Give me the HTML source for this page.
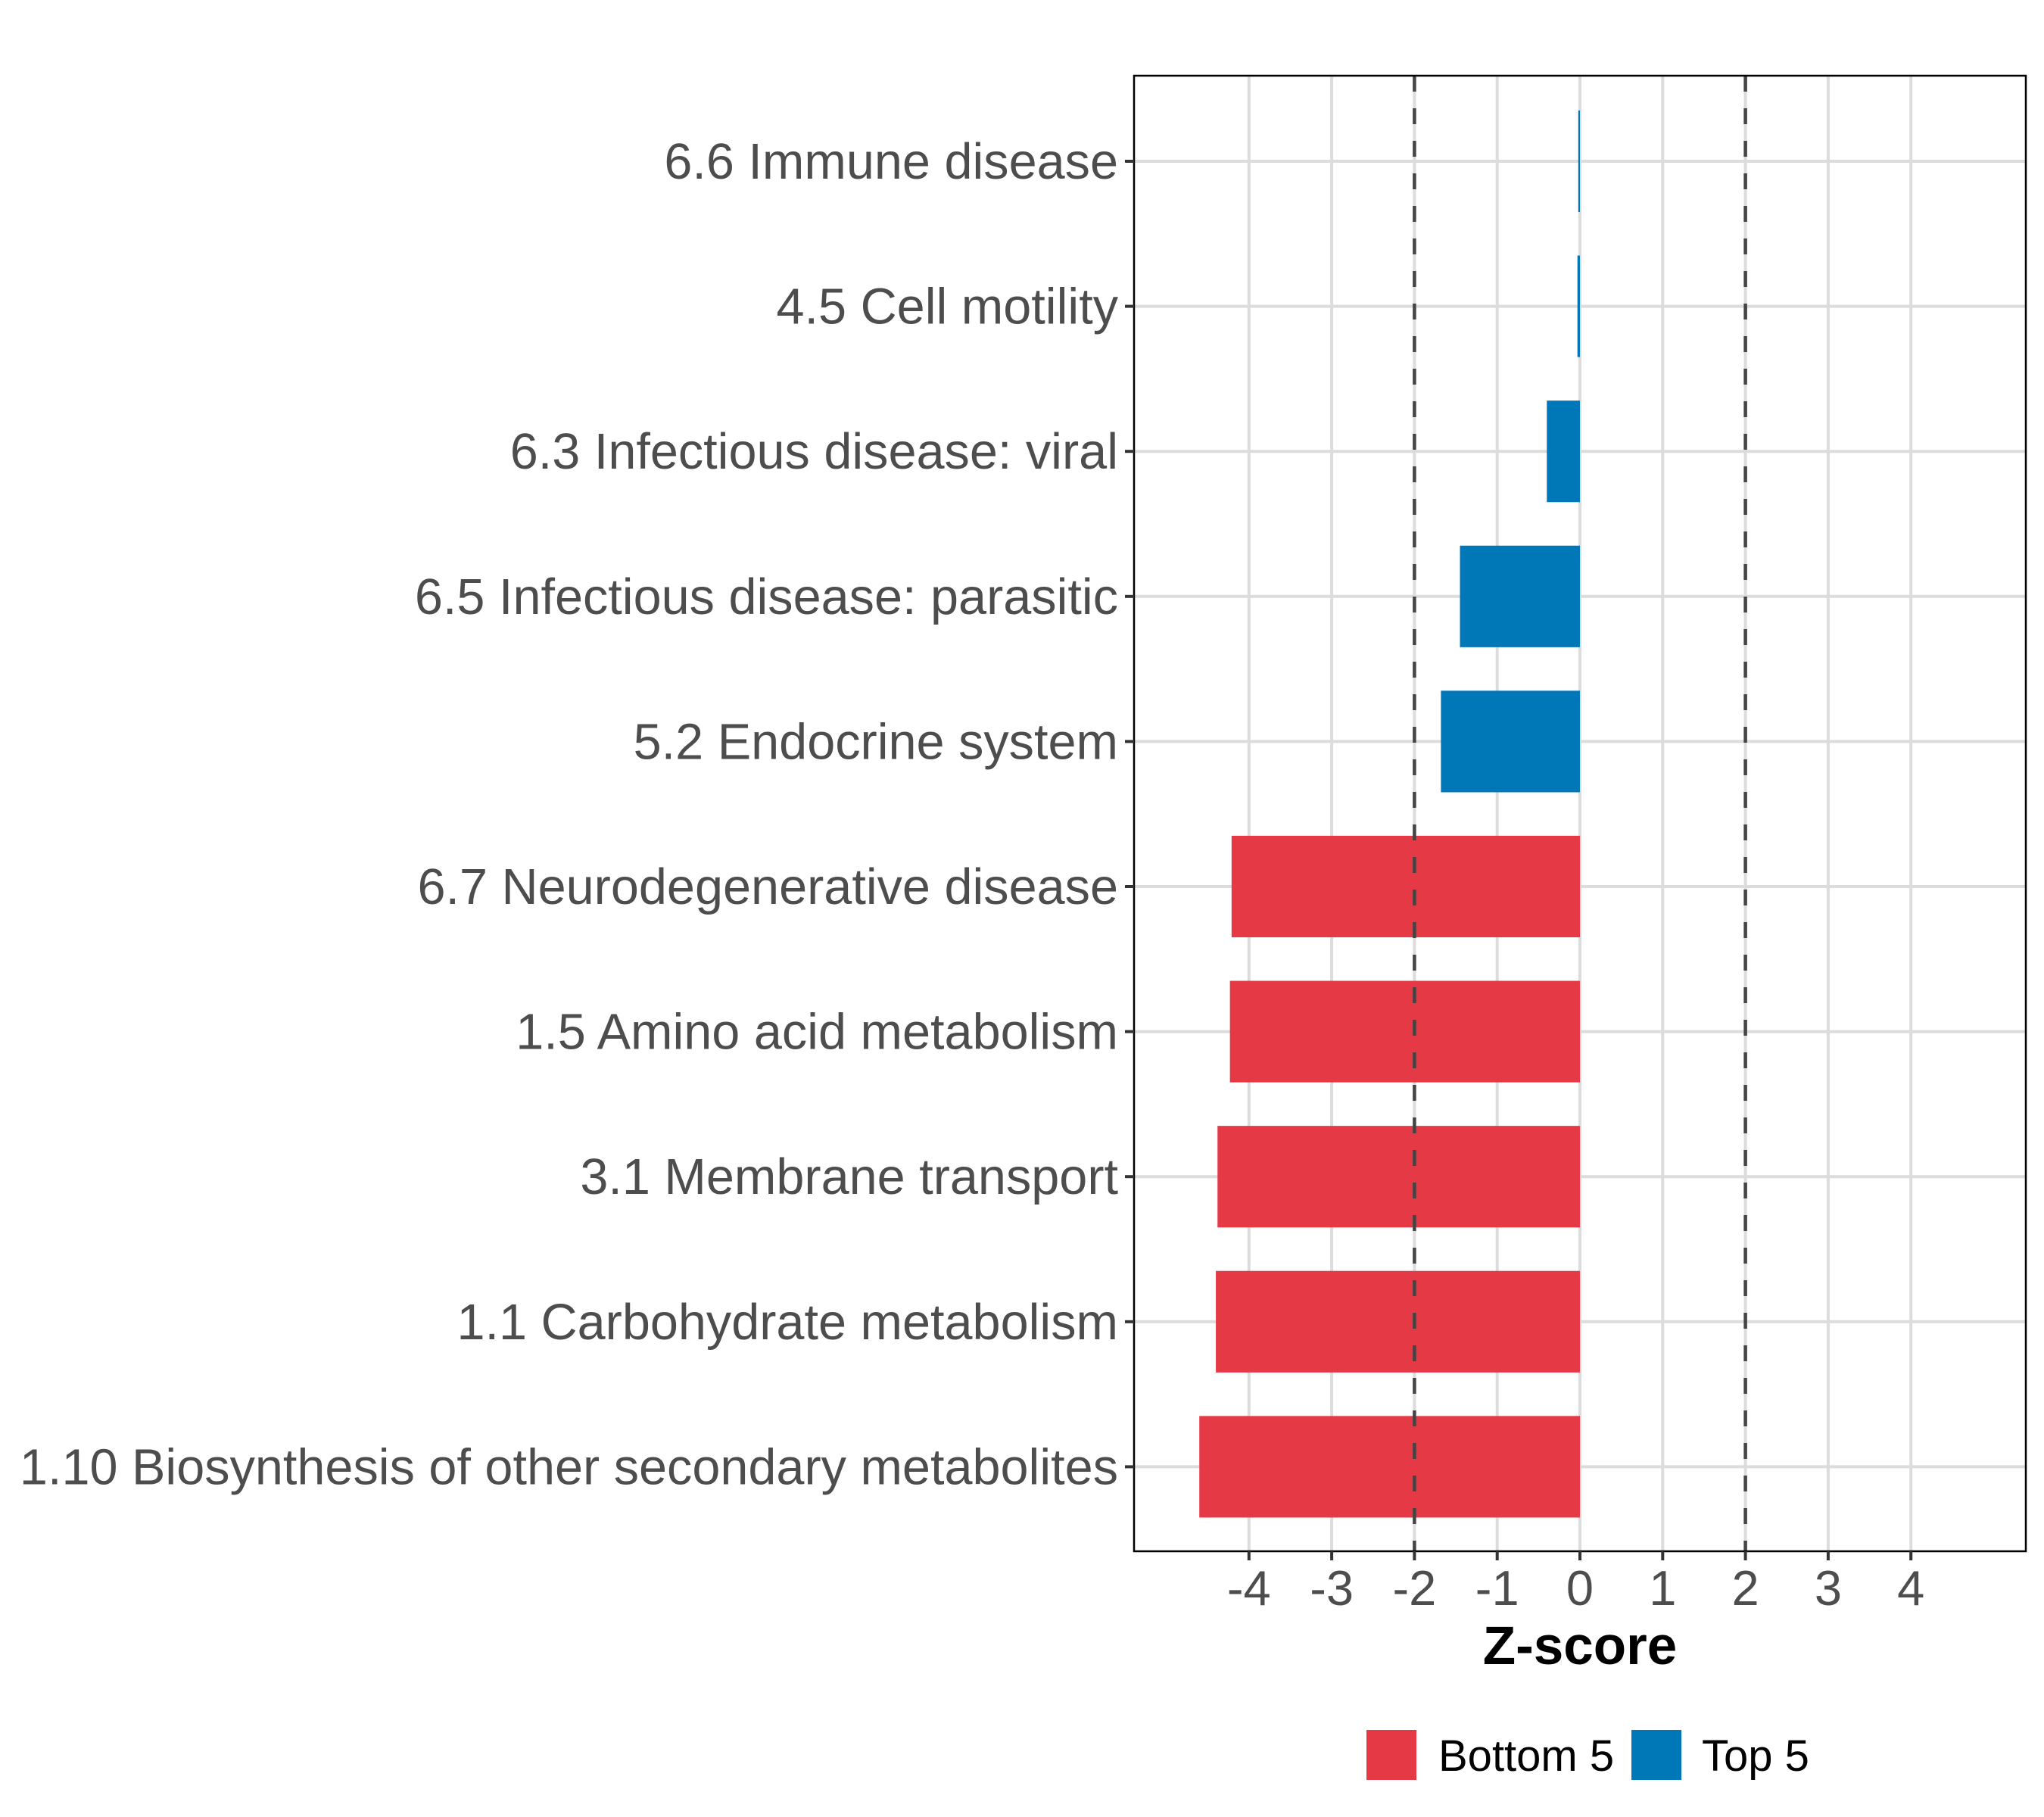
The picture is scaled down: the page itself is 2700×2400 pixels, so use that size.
<!DOCTYPE html>
<html><head><meta charset="utf-8"><style>html,body{margin:0;padding:0;background:#fff}svg{display:block}</style></head>
<body>
<svg id="chart" width="2700" height="2400" viewBox="0 0 2700 2400" xmlns="http://www.w3.org/2000/svg" font-family="Liberation Sans, Arial, sans-serif">
<rect width="2700" height="2400" fill="#fff"/>
<g id="grid"></g>
<g id="bars"></g>
<g id="refs"></g>
<rect x="1498" y="100" width="1178" height="1949" fill="none" stroke="#000" stroke-width="2.5"/>
<g id="yaxis"></g>
<g id="xaxis"></g>
<text x="2087" y="2198" text-anchor="middle" font-size="71" font-weight="bold" fill="#000">Z-score</text>
<g>
<rect x="1805" y="2285" width="66" height="66" fill="#E63946"/>
<text x="1900" y="2339" font-size="58" fill="#000">Bottom 5</text>
<rect x="2155" y="2285" width="66" height="66" fill="#0077B6"/>
<text x="2248" y="2339" font-size="58" fill="#000">Top 5</text>
</g>
</svg>
<script>
const categories = ["6.6 Immune disease","4.5 Cell motility","6.3 Infectious disease: viral","6.5 Infectious disease: parasitic","5.2 Endocrine system","6.7 Neurodegenerative disease","1.5 Amino acid metabolism","3.1 Membrane transport","1.1 Carbohydrate metabolism","1.10 Biosynthesis of other secondary metabolites"];
const zscores = [-0.02,-0.03,-0.4,-1.45,-1.68,-4.21,-4.23,-4.38,-4.4,-4.6];
const groups = ["Top 5","Top 5","Top 5","Top 5","Top 5","Bottom 5","Bottom 5","Bottom 5","Bottom 5","Bottom 5"];
const xTicks = [-4,-3,-2,-1,0,1,2,3,4];
const refLines = [-2,2];

const NS="http://www.w3.org/2000/svg";
const PL=1498, PR=2676, PT=100, PB=2049;
function xs(v){return 2087+v*109.3;}
function ys(i){return 213+i*191.6;}
const bandH=191.6*0.7;
function mk(tag,attrs,parent){const e=document.createElementNS(NS,tag);for(const k in attrs)e.setAttribute(k,attrs[k]);parent.appendChild(e);return e;}
const grid=document.getElementById('grid'),bars=document.getElementById('bars'),refs=document.getElementById('refs'),yax=document.getElementById('yaxis'),xax=document.getElementById('xaxis');
xTicks.forEach(t=>{
  const l=mk('line',{x1:xs(t),x2:xs(t),y1:PT,y2:PB,stroke:'#dcdcdc','stroke-width':4},grid);
  
  
  const tk=mk('line',{x1:xs(t),x2:xs(t),y1:PB,y2:PB+12,stroke:'#333','stroke-width':4},xax);
  
  
  const tx=mk('text',{x:xs(t),y:2120,'text-anchor':'middle','font-size':65,fill:'#4d4d4d'},xax);
  tx.textContent=String(t);
  
  
});
categories.forEach((c,i)=>{
  const l=mk('line',{x1:PL,x2:PR,y1:ys(i),y2:ys(i),stroke:'#dcdcdc','stroke-width':4},grid);
  
  
  const v=zscores[i];
  const x0=Math.min(xs(0),xs(v)), w=Math.max(Math.abs(xs(v)-xs(0)),2);
  const r=mk('rect',{x:x0,y:ys(i)-bandH/2,width:w,height:bandH,fill:groups[i]==='Top 5'?'#0077B6':'#E63946'},bars);
  
  
  const tk=mk('line',{x1:PL-12,x2:PL,y1:ys(i),y2:ys(i),stroke:'#333','stroke-width':4},yax);
  
  
  const tx=mk('text',{x:PL-21,y:ys(i)+23,'text-anchor':'end','font-size':66.6,fill:'#4d4d4d'},yax);
  tx.textContent=c;
  
  
});
refLines.forEach(v=>{
  const l=mk('line',{x1:xs(v),x2:xs(v),y1:PT,y2:PB,stroke:'#444','stroke-width':4.5,'stroke-dasharray':'21 22'},refs);
  
  
});
</script>
</body></html>
